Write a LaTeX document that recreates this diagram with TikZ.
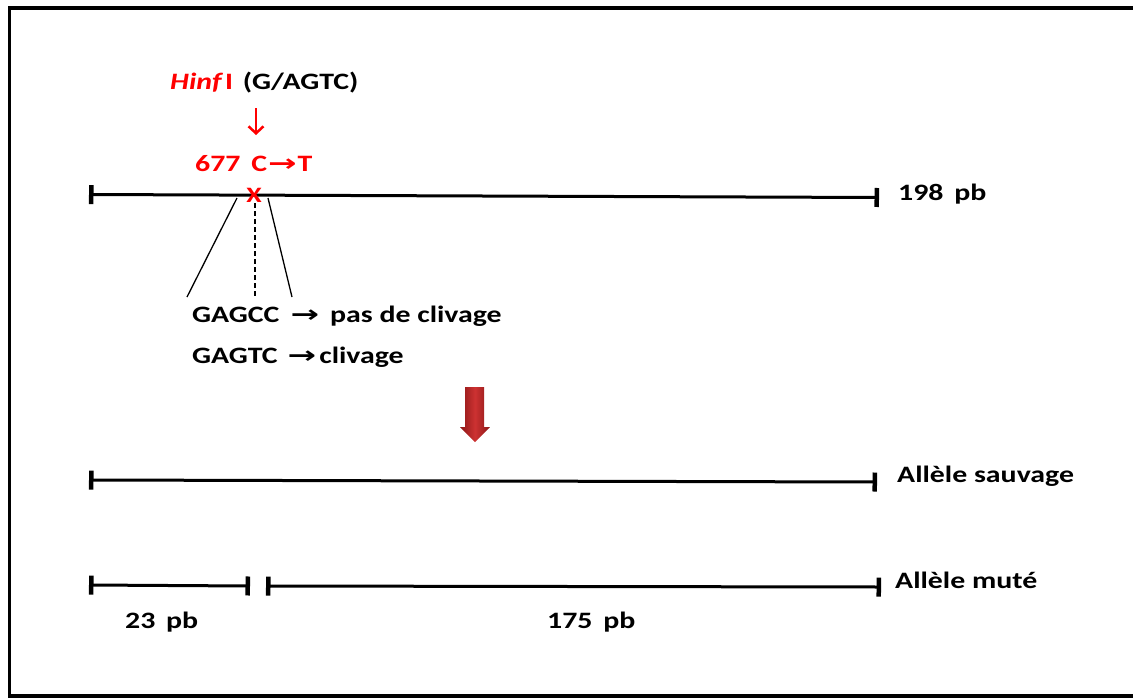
\documentclass[tikz,border=0pt]{standalone}
\usepackage{fontspec}
\setmainfont{Carlito}[FakeStretch=1.27]
\newfontfamily\symfont{DejaVu Sans}
\usetikzlibrary{arrows.meta}
\definecolor{arrowdark}{RGB}{140,22,22}
\definecolor{arrowmid}{RGB}{205,50,50}
\newcommand{\seqarrow}{\scalebox{1.45}[1]{\symfont\bfseries →}}
\tikzset{
  lbl/.style={font=\bfseries\fontsize{23.5}{28}\selectfont, inner sep=0pt, anchor=base west},
  seg/.style={line width=3pt, {Bar[width=19pt,line width=4.5pt]}-{Bar[width=19pt,line width=4.5pt]}},
  fan/.style={line width=1.3pt},
}
\begin{document}
\begin{tikzpicture}[x=1pt,y=-1pt]
  \useasboundingbox (0,0) rectangle (1133,697);
  % frame
  \draw[line width=3.5pt] (1150,8) -- (9.5,8) -- (9.5,696) -- (1150,696);

  % full-length fragment
  \coordinate (a1) at (89,194.5);
  \coordinate (a2) at (879,197.5);
  \draw[seg] (a1) -- (a2);
  \node[lbl] (l198) at (898,200) {198\, pb};

  % restriction site
  \node[lbl, text=red] (enz) at (170,89) {\textit{Hinf}\kern2pt I\kern3pt{} \textcolor{black}{(G/AGTC)}};
  \coordinate (s1) at (256,108);
  \coordinate (s2) at (256,135);
  \draw[red, line width=2.5pt, -{Straight Barb[length=7pt,width=15pt,line width=2.5pt]}] (s1) -- (s2);
  \node[lbl, text=red] (mut) at (195,171) {677\, C\kern1pt\seqarrow\kern1pt T};
  \node[text=red, font=\bfseries\fontsize{22}{22}\selectfont, inner sep=0pt] (x) at (254,195) {X};

  % zoom on the sequence
  \coordinate (f1) at (237,198);
  \coordinate (f2) at (187,297);
  \coordinate (f3) at (268,198);
  \coordinate (f4) at (292,297);
  \coordinate (d1) at (255,203);
  \coordinate (d2) at (255,296);
  \draw[fan] (f1) -- (f2);
  \draw[fan] (f3) -- (f4);
  \draw[fan, dash pattern=on 5pt off 3pt] (d1) -- (d2);
  \node[lbl] (seq1) at (192,322) {GAGCC\kern11pt\seqarrow\kern11pt pas de clivage};
  \node[lbl] (seq2) at (192,363) {GAGTC\kern10pt\seqarrow\kern3pt clivage};

  % digestion arrow
  \shade[left color=arrowdark, right color=arrowdark, middle color=arrowmid]
    (465,387) -- (484,387) -- (484,427) -- (490,427) -- (475,442) -- (460,427) -- (465,427) -- cycle;

  % wild-type allele
  \coordinate (b1) at (89,480);
  \coordinate (b2) at (877,482);
  \draw[seg] (b1) -- (b2);
  \node[lbl] (wt) at (897,482) {Allèle sauvage};

  % mutated allele
  \coordinate (c1) at (89,585);
  \coordinate (c2) at (250,586);
  \coordinate (c3) at (266,586);
  \coordinate (c4) at (881,587);
  \draw[seg] (c1) -- (c2);
  \draw[seg] (c3) -- (c4);
  \node[lbl] (mt) at (895,588) {Allèle muté};
  \node[lbl] (p23) at (125,628) {23\, pb};
  \node[lbl] (p175) at (547,628) {175\, pb};
\end{tikzpicture}
\end{document}
